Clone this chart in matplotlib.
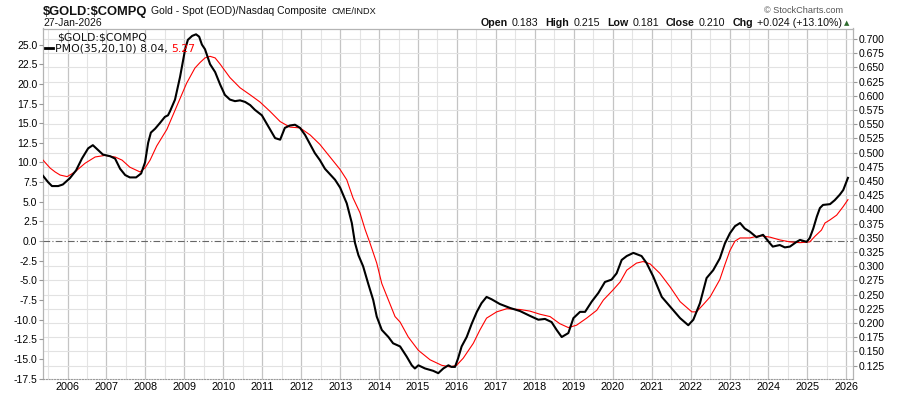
import matplotlib
matplotlib.use("Agg")
import matplotlib.pyplot as plt
import numpy as np

# PMO(35,20,10) of $GOLD:$COMPQ (decimal years)
pmo_dates = [2005.37, 2005.50, 2005.60, 2005.76, 2005.88, 2006.06, 2006.22, 2006.37, 2006.53, 2006.65,
             2006.78, 2006.91, 2007.09, 2007.22, 2007.35, 2007.48, 2007.60, 2007.76, 2007.89, 2007.99,
             2008.07, 2008.14, 2008.25, 2008.37, 2008.50, 2008.58, 2008.63, 2008.76, 2008.89, 2009.02,
             2009.09, 2009.20, 2009.30, 2009.38, 2009.45, 2009.53, 2009.66, 2009.79, 2009.92, 2010.04,
             2010.17, 2010.30, 2010.43, 2010.56, 2010.69, 2010.81, 2010.99, 2011.20, 2011.33, 2011.46,
             2011.58, 2011.71, 2011.84, 2011.97, 2012.10, 2012.23, 2012.35, 2012.48, 2012.61, 2012.74,
             2012.87, 2013.00, 2013.17, 2013.30, 2013.38, 2013.47, 2013.59, 2013.72, 2013.85, 2013.94,
             2014.07, 2014.24, 2014.36, 2014.54, 2014.71, 2014.84, 2014.92, 2015.01, 2015.18, 2015.39,
             2015.52, 2015.65, 2015.78, 2015.86, 2015.95, 2016.03, 2016.12, 2016.25, 2016.38, 2016.51,
             2016.63, 2016.76, 2016.89, 2017.10, 2017.36, 2017.62, 2017.87, 2018.09, 2018.26, 2018.43,
             2018.56, 2018.69, 2018.86, 2018.99, 2019.16, 2019.29, 2019.46, 2019.63, 2019.80, 2019.97,
             2020.10, 2020.23, 2020.36, 2020.53, 2020.74, 2020.87, 2021.04, 2021.26, 2021.47, 2021.73,
             2021.94, 2022.07, 2022.24, 2022.41, 2022.58, 2022.75, 2022.88, 2023.01, 2023.14, 2023.27,
             2023.39, 2023.52, 2023.69, 2023.86, 2024.04, 2024.11, 2024.29, 2024.42, 2024.55, 2024.72,
             2024.81, 2024.98, 2025.06, 2025.15, 2025.24, 2025.32, 2025.40, 2025.58, 2025.70, 2025.83,
             2025.92, 2026.04]
pmo = [8.3, 7.5, 7.0, 7.0, 7.2, 8.0, 9.0, 10.5, 11.8, 12.2,
       11.6, 11.0, 10.8, 10.5, 9.2, 8.4, 8.1, 8.1, 8.6, 10.0,
       12.5, 13.8, 14.3, 15.0, 15.8, 16.0, 16.5, 18.0, 20.9, 24.4,
       25.6, 26.1, 26.3, 26.0, 25.0, 24.4, 22.5, 21.5, 19.9, 18.6,
       18.0, 17.8, 17.9, 17.7, 17.3, 16.7, 16.0, 14.2, 13.1, 12.9,
       14.4, 14.7, 14.8, 14.4, 13.5, 12.3, 11.2, 10.3, 9.2, 8.5,
       7.8, 6.8, 4.8, 2.3, -0.2, -1.8, -3.2, -5.4, -7.5, -9.6,
       -11.3, -12.2, -13.0, -13.4, -14.7, -15.8, -16.2, -15.8, -16.2, -16.5,
       -16.8, -16.2, -15.8, -16.0, -16.0, -14.9, -13.4, -12.2, -10.5, -9.0,
       -7.9, -7.1, -7.4, -8.0, -8.5, -8.9, -9.5, -10.0, -9.9, -10.3,
       -11.3, -12.2, -11.7, -9.8, -9.0, -9.0, -7.7, -6.6, -5.2, -4.9,
       -4.1, -2.4, -1.9, -1.5, -1.9, -2.8, -4.5, -7.1, -8.3, -9.8,
       -10.7, -10.0, -7.9, -4.7, -3.7, -2.2, -0.3, 1.0, 1.9, 2.3,
       1.6, 1.2, 0.5, 0.8, -0.3, -0.7, -0.5, -0.8, -0.7, -0.1,
       0.15, -0.1, 0.4, 1.6, 3.1, 4.2, 4.6, 4.7, 5.2, 5.9,
       6.5, 8.04]

sig_dates = [2005.37, 2005.55, 2005.68, 2005.81, 2005.99, 2006.19, 2006.45, 2006.71, 2006.96, 2007.22,
             2007.40, 2007.60, 2007.73, 2007.86, 2007.99, 2008.12, 2008.29, 2008.55, 2008.80, 2009.06,
             2009.27, 2009.40, 2009.53, 2009.66, 2009.79, 2009.92, 2010.17, 2010.43, 2010.69, 2010.94,
             2011.20, 2011.46, 2011.71, 2011.97, 2012.23, 2012.48, 2012.74, 2013.00, 2013.17, 2013.33,
             2013.51, 2013.64, 2013.77, 2013.94, 2014.07, 2014.24, 2014.41, 2014.54, 2014.75, 2015.01,
             2015.31, 2015.61, 2015.82, 2015.99, 2016.16, 2016.42, 2016.59, 2016.76, 2017.02, 2017.28,
             2017.62, 2017.87, 2018.13, 2018.39, 2018.64, 2018.86, 2019.07, 2019.33, 2019.59, 2019.76,
             2020.01, 2020.19, 2020.36, 2020.61, 2020.78, 2020.96, 2021.21, 2021.47, 2021.73, 2022.03,
             2022.15, 2022.32, 2022.50, 2022.75, 2022.88, 2023.01, 2023.14, 2023.27, 2023.52, 2023.78,
             2024.04, 2024.29, 2024.55, 2024.81, 2025.06, 2025.19, 2025.36, 2025.45, 2025.58, 2025.75,
             2025.92, 2026.04]
signal = [10.3, 9.3, 8.8, 8.4, 8.2, 8.8, 9.9, 10.7, 10.9, 10.7,
          10.3, 9.4, 9.1, 8.8, 9.3, 10.3, 12.1, 14.2, 17.1, 20.1,
          22.0, 22.7, 23.3, 23.5, 23.3, 22.5, 20.8, 19.5, 18.6, 17.7,
          16.5, 15.2, 14.5, 14.4, 13.5, 12.3, 10.7, 9.1, 7.8, 5.5,
          3.6, 1.5, -0.3, -2.8, -5.4, -7.5, -9.6, -10.3, -12.2, -13.9,
          -15.1, -15.8, -16.0, -15.8, -14.9, -13.0, -11.3, -9.8, -9.0, -8.6,
          -8.7, -8.9, -9.3, -9.6, -10.5, -11.0, -10.7, -9.8, -8.8, -7.5,
          -6.2, -5.2, -3.7, -2.8, -2.6, -2.9, -4.1, -5.8, -7.7, -9.0,
          -9.0, -8.1, -7.1, -4.9, -3.0, -1.2, 0.0, 0.4, 0.4, 0.7,
          0.5, 0.15, -0.1, -0.2, -0.1, 0.6, 1.4, 2.3, 2.7, 3.3,
          4.4, 5.27]

years = list(range(2006, 2027))
left_ticks = [25.0, 22.5, 20.0, 17.5, 15.0, 12.5, 10.0, 7.5, 5.0, 2.5, 0.0,
              -2.5, -5.0, -7.5, -10.0, -12.5, -15.0, -17.5]
right_ticks = [0.125, 0.150, 0.175, 0.200, 0.225, 0.250, 0.275, 0.300, 0.325, 0.350, 0.375,
               0.400, 0.425, 0.450, 0.475, 0.500, 0.525, 0.550, 0.575, 0.600, 0.625, 0.650,
               0.675, 0.700]

W, H = 900, 396
plt.rcParams['font.family'] = ['Liberation Sans', 'DejaVu Sans']
plt.rcParams['text.parse_math'] = False

fig = plt.figure(figsize=(W / 100, H / 100), dpi=100)
fig.patch.set_facecolor('white')

# price axis (right scale) carries the grid, PMO axis on top carries the lines
ax_r = fig.add_axes([43 / W, 1 - 379 / H, 810 / W, 350.5 / H])
ax_l = ax_r.twinx()

ax_r.set_xlim(2005.37, 2026.17)
ax_r.set_ylim(0.1014, 0.7185)
ax_r.set_yticks(right_ticks)
ax_r.set_yticklabels([f'{v:.3f}' for v in right_ticks])
ax_r.yaxis.tick_right()
ax_r.set_xticks(years)
ax_r.set_xticklabels([str(y) for y in years])
ax_r.set_xticks([y + 0.5 for y in years[:-1]] + [2005.5], minor=True)
ax_r.grid(True, which='major', axis='x', color='#c4c4c4', linewidth=0.9)
ax_r.grid(True, which='minor', axis='x', color='#e4e4e4', linewidth=0.8)
ax_r.grid(True, which='major', axis='y', color='#e2e2e2', linewidth=0.8)
ax_r.set_axisbelow(True)
ax_r.tick_params(axis='y', which='both', direction='out', length=3, width=0.8,
                 color='#999999', labelsize=7.5, pad=1, left=False, labelleft=False,
                 right=True, labelright=True)
ax_r.tick_params(axis='x', which='both', length=0, labelsize=7.8, pad=2)
for s in ['left', 'right', 'top']:
    ax_r.spines[s].set_color('#b4b4b4')
    ax_r.spines[s].set_linewidth(0.9)
ax_r.spines['bottom'].set_color('#9a9a9a')
ax_r.spines['bottom'].set_linestyle((0, (1, 1.5)))
ax_r.spines['bottom'].set_linewidth(0.8)

ax_l.set_ylim(-17.54, 27.04)
ax_l.set_yticks(left_ticks)
ax_l.set_yticklabels([f'{v:.1f}' for v in left_ticks])
ax_l.yaxis.tick_left()
ax_l.tick_params(axis='y', direction='out', length=3, width=0.8, color='#999999',
                 labelsize=7.5, pad=1, right=False, labelright=False,
                 left=True, labelleft=True)
for s in ax_l.spines.values():
    s.set_visible(False)

ax_l.axhline(0, color='#666666', linewidth=0.8, linestyle=(0, (6, 2, 1, 2)))
ax_l.plot(sig_dates, signal, color='#ff0000', linewidth=0.8)
ax_l.plot(pmo_dates, pmo, color='black', linewidth=1.5)

renderer = fig.canvas.get_renderer()


def chain(x, y, parts):
    # lay text pieces left to right; x, y in pixels from top-left, y is the baseline
    for text, size, weight, color, gap, fam in parts:
        kw = {'family': fam} if fam else {}
        t = fig.text(x / W, 1 - y / H, text, fontsize=size, fontweight=weight,
                     color=color, va='baseline', ha='left', **kw)
        x = t.get_window_extent(renderer).x1 + gap
    return x


ink = '#111111'
# header
chain(43, 14.5, [('$GOLD:$COMPQ', 9.3, 'bold', ink, 4, None),
                 ('Gold - Spot (EOD)/Nasdaq Composite', 7.5, 'normal', ink, 4, None),
                 ('CME/INDX', 6.6, 'normal', ink, 0, None)])
fig.text(43 / W, 1 - 25.5 / H, '27-Jan-2026', fontsize=7.5, va='baseline', color=ink)
fig.text(843 / W, 1 - 13 / H, '\u00a9 StockCharts.com', fontsize=6.6, ha='right',
         va='baseline', color='#555555')
chain(481, 25.5, [('Open', 7.7, 'bold', ink, 4, None), ('0.183', 7.7, 'normal', ink, 7, None),
                  ('High', 7.7, 'bold', ink, 4, None), ('0.215', 7.7, 'normal', ink, 7, None),
                  ('Low', 7.7, 'bold', ink, 4, None), ('0.181', 7.7, 'normal', ink, 7, None),
                  ('Close', 7.7, 'bold', ink, 4, None), ('0.210', 7.7, 'normal', ink, 7, None),
                  ('Chg', 7.7, 'bold', ink, 4, None),
                  ('+0.024 (+13.10%)', 7.7, 'normal', ink, 2, None),
                  ('\u25b2', 5, 'normal', '#2e6b2e', 0, 'DejaVu Sans')])

# in-chart legend
fig.text(57 / W, 1 - 40 / H, '$GOLD:$COMPQ', fontsize=7.8, va='baseline',
         family='DejaVu Sans', color=ink)
fig.add_artist(plt.Line2D([45 / W, 53 / W], [1 - 47.5 / H, 1 - 47.5 / H], color='black',
                          linewidth=2))
chain(55, 51.5, [('PMO(35,20,10) 8.04,', 7.8, 'normal', ink, 3, 'DejaVu Sans'),
                 ('5.27', 7.8, 'normal', '#ff0000', 0, 'DejaVu Sans')])

fig.savefig('out.png', dpi=100, facecolor='white')
